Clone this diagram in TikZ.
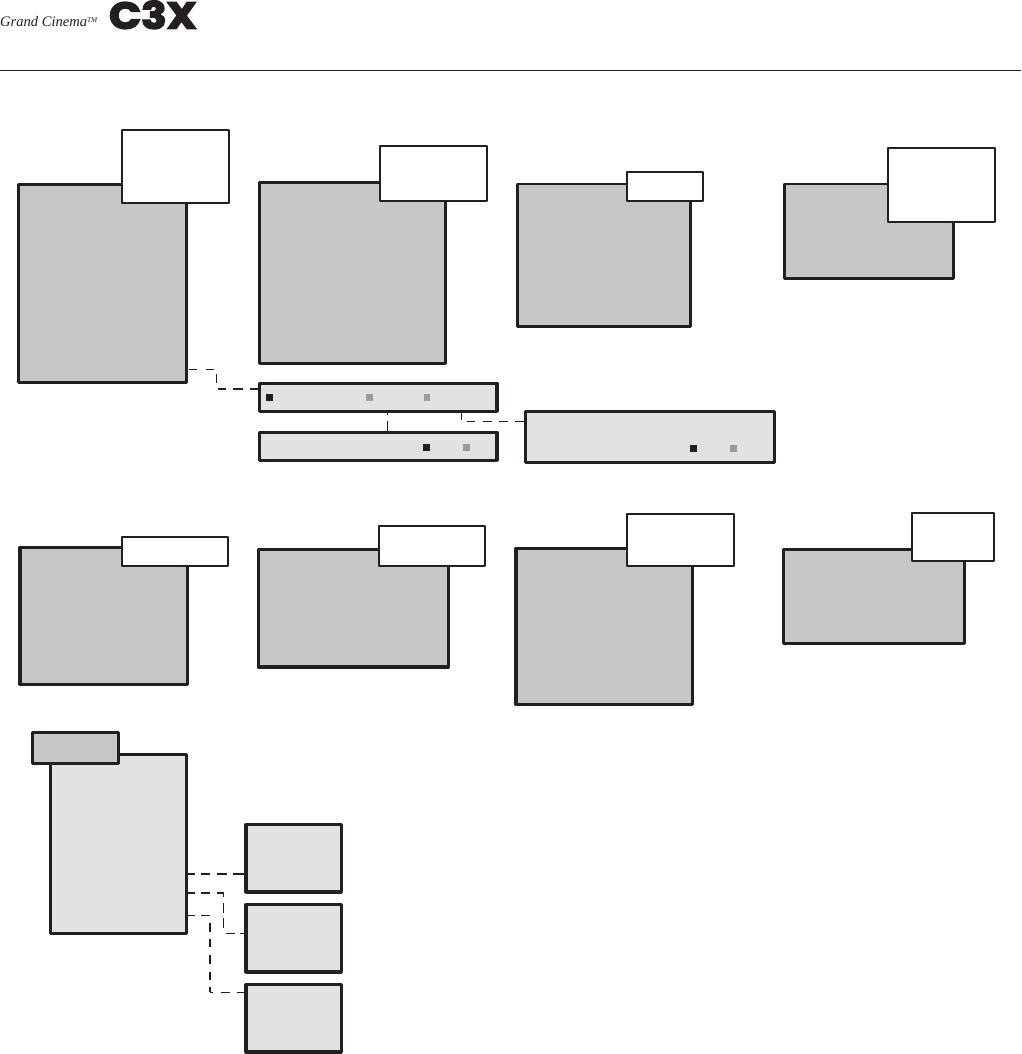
\documentclass[tikz,border=0pt]{standalone}
\usepackage{graphicx}
\usepackage{fontspec}
\setmainfont{Liberation Serif}
\newfontfamily\logofont[BoldFeatures={FakeBold=4}]{Poppins}
\definecolor{inkc}{HTML}{231F20}
\definecolor{panelc}{HTML}{C7C7C7}
\definecolor{lightc}{HTML}{E2E2E2}
\definecolor{greyc}{HTML}{9B9B9B}
\tikzset{
  boxbase/.style={rectangle,inner sep=0pt,outer sep=0pt,draw=inkc,line join=round},
  panel/.style={boxbase,fill=panelc,line width=2.8pt},
  callout/.style={boxbase,fill=white,line width=1.8pt},
  lightbox/.style={boxbase,fill=lightc,line width=2.8pt},
  lightthick/.style={boxbase,fill=lightc,line width=3.2pt},
  tabbox/.style={boxbase,fill=panelc,line width=2.6pt},
  ledk/.style={rectangle,inner sep=0pt,outer sep=0pt,fill=inkc,minimum width=7pt,minimum height=7pt},
  ledg/.style={rectangle,inner sep=0pt,outer sep=0pt,fill=greyc,minimum width=7pt,minimum height=7pt},
  thinline/.style={draw=inkc,line width=1pt},
  thickline/.style={draw=inkc,line width=1.7pt},
}
\newcommand{\bx}[6]{%
  \pgfmathsetmacro{\bxcx}{(#3+#5)/2}%
  \pgfmathsetmacro{\bxcy}{(#4+#6)/2}%
  \pgfmathsetmacro{\bxw}{#5-#3}%
  \pgfmathsetmacro{\bxh}{#6-#4}%
  \node[#1,minimum width=\bxw pt,minimum height=\bxh pt] (#2) at (\bxcx,\bxcy) {};}
\begin{document}
\begin{tikzpicture}[x=1pt,y=-1pt]
\useasboundingbox (0,0) rectangle (1021,1054);
% header
\node[anchor=west,inner sep=0pt,text=inkc] (brand) at (0,22)
  {\resizebox{97pt}{!}{\itshape Grand Cinema\raisebox{0.6ex}{\tiny TM}}};
\node[anchor=north west,inner sep=0pt,text=inkc] (logo) at (109,0.5)
  {\resizebox{87.5pt}{28pt}{\logofont\bfseries C3X}};
\coordinate (ruleL) at (0,70.5);
\coordinate (ruleR) at (1021,70.5);
\draw[inkc,line width=1pt] (ruleL) -- (ruleR);
% row 1
\bx{panel}{g1}{18.5}{184.3}{186.7}{382.3}
\bx{callout}{w1}{122}{130}{229}{202.7}
\bx{panel,line width=3.1pt}{g2}{259.3}{182.7}{445.7}{363.3}
\bx{callout}{w2}{380}{145.7}{487.3}{200.7}
\bx{panel}{g3}{517.3}{184}{690.3}{326.3}
\bx{callout}{w3}{627}{172}{703}{201}
\bx{panel}{g4}{784.7}{184}{953.3}{278.3}
\bx{callout}{w4}{888}{147.7}{995.3}{221.7}
% bars
\bx{lightthick}{l1}{259.7}{383.3}{497}{411.3}
\bx{lightthick}{l2}{259.7}{432.3}{497}{460.3}
\bx{lightbox}{l3}{525.3}{411.3}{774.7}{462.3}
\node[ledk] (a1) at (269.5,397.5) {};
\node[ledg] (a2) at (369.5,397.5) {};
\node[ledg,minimum width=6pt] (a3) at (427,397.5) {};
\node[ledk] (b1) at (426.5,447) {};
\node[ledg] (b2) at (466.5,447) {};
\node[ledk] (c1) at (693.5,448.5) {};
\node[ledg] (c2) at (733.5,448.5) {};
% row 2
\bx{panel,line width=3.1pt}{g5}{20}{547.3}{187.7}{684.3}
\bx{callout}{w5}{122}{537}{228.3}{566}
\bx{panel,line width=3.1pt}{g6}{258.3}{549.7}{448.3}{667}
\bx{callout}{w6}{379}{525.7}{485.3}{566}
\bx{panel,line width=3.1pt}{g7}{516}{548.3}{692.3}{704.3}
\bx{callout}{w7}{627}{514}{734.3}{566}
\bx{panel,line width=3.1pt}{g8}{783.3}{549.7}{964.7}{643.3}
\bx{callout}{w8}{912}{513}{994}{561}
% row 3
\bx{lightbox}{g9}{50.7}{754.3}{186.3}{933.3}
\bx{tabbox}{tab}{32.7}{732.7}{118.7}{763.7}
\bx{lightthick}{b1x}{246}{824.7}{341.3}{892}
\bx{lightthick}{b2x}{246}{904.7}{341.3}{972}
\bx{lightthick}{b3x}{246}{984.7}{341.3}{1052}
% connectors: upper bars
\coordinate (p1) at (216,369.3);
\coordinate (p2) at (216,389);
\draw[thinline,dash pattern=on 0pt off 2.3pt on 8.3pt off 8.4pt on 8.3pt off 20pt] (g1.east |- p1) -- (p1);
\draw[thinline,dash pattern=on 0pt off 4.7pt on 8.7pt off 20pt] (p1) -- (p2);
\coordinate (p2s) at (217.7,389);
\draw[thickline,dash pattern=on 8.3pt off 7.3pt on 9.4pt off 7.3pt on 10pt off 20pt] (p2s) -- (l1.west |- p2);
\coordinate (q1) at (387.7,415);
\coordinate (q2) at (387.7,420.7);
\draw[thinline] (l1.south -| q1) -- (q1);
\draw[thinline] (q2) -- (l2.north -| q2);
\coordinate (r1) at (461.3,420);
\coordinate (r2) at (466.7,421.3);
\draw[thinline] (l1.south -| r1) -- (r1);
\draw[thinline,dash pattern=on 8.3pt off 7.7pt on 9pt off 7.6pt on 8.3pt off 7.7pt on 10pt off 20pt] (r2) -- (l3.west |- r2);
% connectors: lower group
\coordinate (s1) at (246,874);
\draw[thickline,dash pattern=on 8.4pt off 6.6pt on 8.7pt off 7.3pt on 9.4pt off 6.6pt on 11pt off 20pt] (g9.east |- s1) -- (b1x.west |- s1);
\coordinate (t1) at (223.5,893);
\coordinate (t2) at (223.5,933);
\draw[thickline,dash pattern=on 8.4pt off 6.6pt on 8.7pt off 7.3pt on 9pt off 20pt] (g9.east |- t1) -- (t1);
\draw[thinline,dash pattern=on 3.7pt off 6.6pt on 10pt off 5pt on 10pt off 20pt] (t1) -- (t2);
\draw[thinline,dash pattern=on 0pt off 2.5pt on 9pt off 5pt on 10pt off 20pt] (t2) -- (b2x.west |- t2);
\coordinate (u1) at (210,915.3);
\coordinate (u2) at (210,992.3);
\draw[thinline,dash pattern=on 8.4pt off 6.6pt on 9pt off 20pt] (g9.east |- u1) -- (u1);
\draw[thickline,dash pattern=on 0pt off 7.4pt on 9pt off 7.6pt on 8pt off 7.7pt on 9pt off 7.7pt on 8.3pt off 7.3pt on 8pt off 20pt] (u1) -- (u2);
\draw[thinline,dash pattern=on 3.3pt off 7.4pt on 9.3pt off 6.7pt on 10pt off 20pt] (u2) -- (b3x.west |- u2);
\end{tikzpicture}
\end{document}
